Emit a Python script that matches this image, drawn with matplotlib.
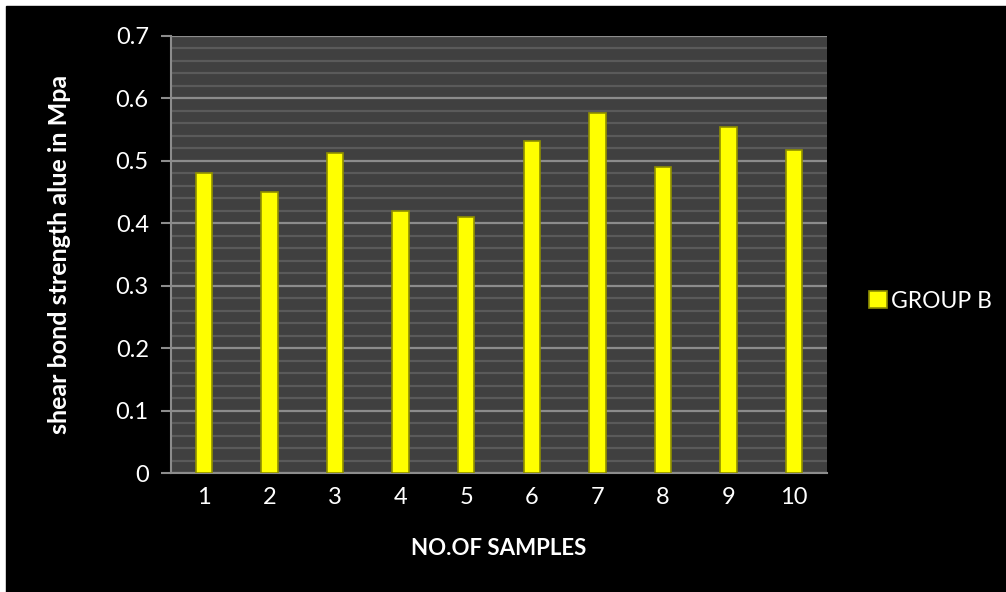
import matplotlib.pyplot as plt
import matplotlib.ticker as mticker
from matplotlib.patches import Rectangle
import numpy as np

plt.rcParams['font.family'] = ['Lato', 'DejaVu Sans']

# ── data ─────────────────────────────────────────────
samples = ["1", "2", "3", "4", "5", "6", "7", "8", "9", "10"]
group_b = [0.48, 0.45, 0.513, 0.419, 0.41, 0.532, 0.577, 0.49, 0.555, 0.518]

fig = plt.figure(figsize=(10.06, 5.92), dpi=100, facecolor="white")
# black backdrop with thin white border at top/left
fig.patches.append(Rectangle((6 / 1006, 0), 1, 1 - 6 / 592,
                             transform=fig.transFigure, color="black", zorder=-10))

ax = fig.add_axes([171 / 1006, 1 - 473 / 592, 656 / 1006, 437 / 592])
ax.set_facecolor("#404040")

x = np.arange(len(samples))
ax.bar(x, group_b, width=0.25, color="#ffff00", edgecolor="#8f8f00",
       linewidth=1.2, zorder=3, label="GROUP B")

ax.set_xlim(-0.5, len(samples) - 0.5)
ax.set_ylim(0, 0.7)
ax.yaxis.set_major_locator(mticker.MultipleLocator(0.1))
ax.yaxis.set_minor_locator(mticker.MultipleLocator(0.02))
ax.yaxis.set_major_formatter(mticker.FuncFormatter(lambda v, p: f"{v:g}"))
ax.grid(axis="y", which="major", color="#8c8c8c", linewidth=1.6, zorder=1)
ax.grid(axis="y", which="minor", color="#5a5a5a", linewidth=1.6, zorder=1)
ax.set_axisbelow(True)

ax.set_xticks(x)
ax.set_xticklabels(samples)
ax.tick_params(axis="x", length=0, colors="white", labelsize=17, pad=10)
ax.tick_params(axis="y", which="major", length=7, width=1.5,
               colors="white", labelsize=17, pad=9)
ax.tick_params(axis="y", which="major", color="#8c8c8c")
ax.tick_params(axis="y", which="minor", length=0)

for s in ["top", "right"]:
    ax.spines[s].set_visible(False)
for s in ["left", "bottom"]:
    ax.spines[s].set_color("#8c8c8c")
    ax.spines[s].set_linewidth(1.5)

ax.set_xlabel("NO.OF SAMPLES", color="white", fontsize=16, fontweight="bold",
              labelpad=22)
ax.set_ylabel("shear bond strength alue in Mpa", color="white", fontsize=18,
              fontweight="bold", labelpad=32)

leg = fig.legend(loc="center left", bbox_to_anchor=(869 / 1006, 1 - 301 / 592),
                 frameon=False, fontsize=16.5, handlelength=0.8, handleheight=0.8,
                 handletextpad=0.15, borderpad=0, borderaxespad=0)
for t in leg.get_texts():
    t.set_color("white")

fig.savefig("out.png", dpi=100, facecolor=fig.get_facecolor())
